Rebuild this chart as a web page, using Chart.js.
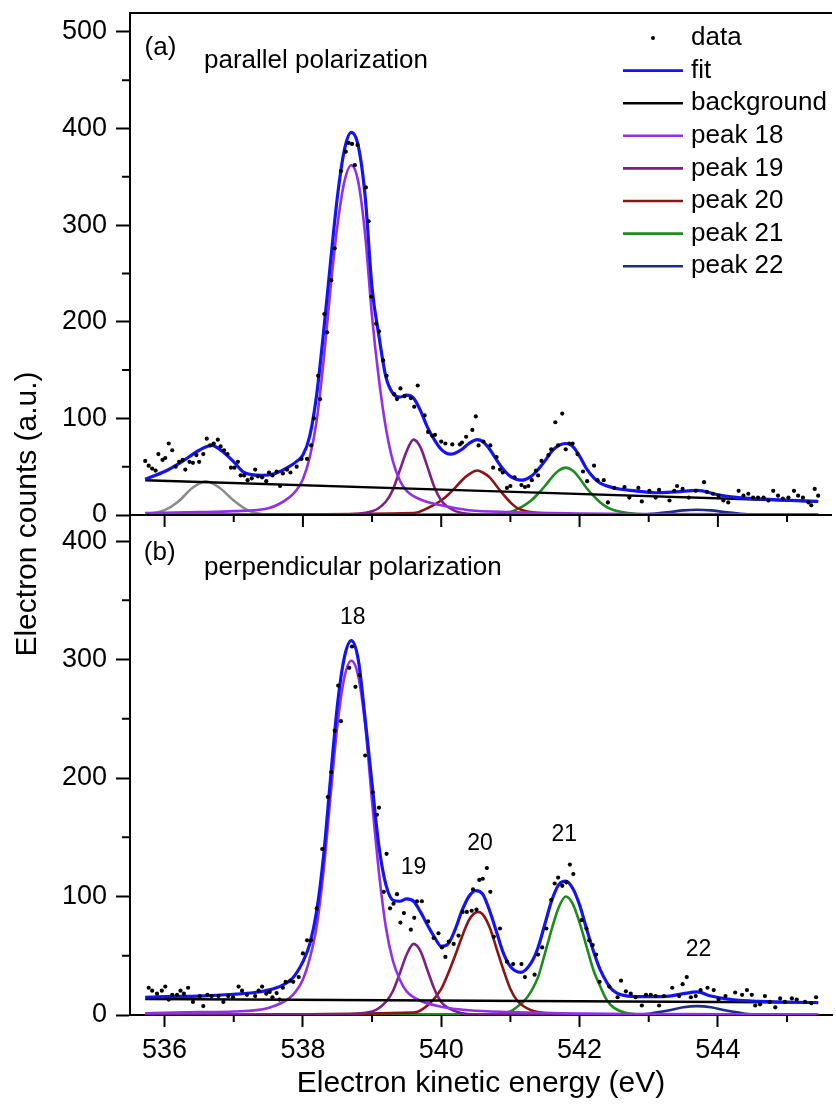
<!DOCTYPE html>
<html lang="en">
<head>
  <meta charset="UTF-8">
  <title>Electron counts vs kinetic energy</title>
  <script src="https://cdn.jsdelivr.net/npm/chart.js"></script>
  <style>
    html, body { margin: 0; padding: 0; background: #fff; }
    #chart { display: block; }
  </style>
</head>
<body>
  <canvas id="chart" width="836" height="1111"></canvas>
  <script>
    // ---- values ----
    // tick values
    const xMajorTicks = [536, 538, 540, 542, 544];
    const xMinorTicks = [537, 539, 541, 543, 545];
    const parYTicks = [0, 100, 200, 300, 400, 500];
    const parYMinor = [50, 150, 250, 350, 450];
    const perpYTicks = [0, 100, 200, 300, 400];
    const perpYMinor = [50, 150, 250, 350];

    // (a) parallel polarization: measured points
    const parDataE = [535.72, 535.77, 535.82, 535.87, 535.91, 535.97, 536.01, 536.06, 536.11, 536.16,
      536.21, 536.26, 536.30, 536.36, 536.41, 536.46, 536.50, 536.56, 536.61, 536.66,
      536.71, 536.77, 536.81, 536.86, 536.91, 536.96, 537.01, 537.06, 537.10, 537.15,
      537.20, 537.26, 537.31, 537.35, 537.41, 537.47, 537.51, 537.56, 537.62, 537.67,
      537.71, 537.77, 537.82, 537.91, 537.98, 538.06, 538.12, 538.16, 538.22, 538.25,
      538.31, 538.35, 538.41, 538.46, 538.55, 538.62, 538.66, 538.71, 538.75, 538.79,
      538.91, 538.95, 538.99, 539.06, 539.10, 539.16, 539.21, 539.32, 539.36, 539.41,
      539.47, 539.56, 539.61, 539.66, 539.76, 539.81, 539.87, 539.91, 540.00, 540.06,
      540.16, 540.27, 540.30, 540.36, 540.45, 540.50, 540.54, 540.61, 540.71, 540.75,
      540.80, 540.85, 540.89, 540.95, 541.00, 541.06, 541.16, 541.21, 541.26, 541.31,
      541.37, 541.40, 541.45, 541.55, 541.59, 541.65, 541.69, 541.75, 541.80, 541.85,
      541.90, 541.97, 542.05, 542.11, 542.21, 542.26, 542.35, 542.41, 542.50, 542.65,
      542.72, 542.85, 542.90, 543.01, 543.10, 543.15, 543.30, 543.37, 543.41, 543.49,
      543.58, 543.68, 543.80, 543.84, 543.93, 544.01, 544.08, 544.15, 544.30, 544.37,
      544.44, 544.51, 544.58, 544.66, 544.73, 544.80, 544.87, 544.94, 545.02, 545.10,
      545.16, 545.23, 545.31, 545.35, 545.40, 545.45];
    const parDataCounts = [56, 51, 48, 46, 63, 57, 59, 74, 67, 50,
      55, 57, 47, 55, 54, 62, 55, 63, 79, 72,
      74, 78, 71, 67, 63, 49, 49, 55, 41, 41,
      36, 38, 47, 40, 39, 35, 44, 41, 45, 30,
      43, 47, 44, 50, 58, 58, 72, 100, 144, 120,
      208, 189, 243, 276, 356, 376, 385, 384, 362, 383,
      339, 304, 226, 198, 190, 160, 144, 125, 120, 131,
      123, 121, 112, 134, 103, 86, 82, 83, 76, 74,
      73, 73, 75, 81, 88, 102, 72, 76, 72, 49,
      60, 47, 44, 28, 30, 39, 31, 29, 30, 36,
      46, 41, 56, 62, 68, 96, 72, 105, 68, 74,
      74, 63, 45, 35, 51, 36, 36, 13, 28, 29,
      18, 28, 14, 25, 18, 26, 15, 25, 30, 27,
      18, 25, 34, 24, 22, 20, 15, 13, 25, 20,
      22, 18, 18, 18, 15, 25, 20, 17, 18, 25,
      20, 18, 13, 10, 27, 20];

    // (a) fit curve
    const parFitE = [535.72, 536.0, 536.2, 536.35, 536.5, 536.68, 536.85, 537.0, 537.15, 537.4,
      537.6, 537.8, 537.9, 538.0, 538.1, 538.2, 538.3, 538.4, 538.5, 538.6,
      538.7, 538.8, 538.9, 539.0, 539.1, 539.2, 539.3, 539.4, 539.5, 539.6,
      539.7, 539.8, 539.9, 540.0, 540.13, 540.2, 540.3, 540.4, 540.52, 540.6,
      540.7, 540.8, 540.9, 541.0, 541.16, 541.3, 541.4, 541.5, 541.6, 541.7,
      541.8, 541.9, 542.0, 542.1, 542.2, 542.3, 542.5, 542.8, 543.1, 543.4,
      543.7, 544.0, 544.3, 544.8, 545.45];
    const parFit = [37, 45, 53, 60, 67, 72, 65, 55, 44, 41,
      43, 50, 55, 62, 82, 125, 190, 262, 330, 378,
      396, 382, 330, 235, 185, 143, 126, 122, 124, 121,
      108, 91, 78, 68, 63, 64, 68, 74, 78, 76,
      68, 57, 47, 40, 36, 40, 47, 56, 66, 72,
      74, 71, 61, 48, 39, 33, 28, 25, 23, 24,
      25.5, 21, 18, 16, 14];

    const parBackE = [535.72, 545.45];
    const parBack = [36, 14];

    const parExtraE = [535.72, 536.0, 536.2, 536.4, 536.6, 536.8, 537.0, 537.2, 537.4, 537.6];
    const parExtra = [0.5, 5, 14, 28, 35, 28, 15, 5, 1, 0];

    const parP18E = [535.72, 536.5, 537.0, 537.5, 537.8, 537.9, 538.0, 538.1, 538.2, 538.3,
      538.4, 538.5, 538.6, 538.7, 538.8, 538.9, 539.0, 539.1, 539.2, 539.3,
      539.4, 539.5, 539.7, 540.0, 540.4, 541.0, 542.0, 543.0, 545.45];
    const parP18 = [2, 3, 4, 7, 18, 25, 37, 60, 98, 160,
      235, 300, 345, 362, 345, 290, 205, 140, 90, 56,
      36, 25, 16, 10, 5, 3, 1.5, 1, 0.5];

    const parP19E = [535.72, 538.5, 539.0, 539.2, 539.3, 539.4, 539.5, 539.6, 539.7, 539.8,
      539.9, 540.0, 540.1, 540.3, 540.6, 545.45];
    const parP19 = [0, 0.5, 4, 14, 26, 46, 66, 78, 70, 50,
      29, 15, 8, 2, 0.5, 0];

    const parP20E = [535.72, 539.6, 539.8, 540.0, 540.1, 540.2, 540.3, 540.4, 540.52, 540.6,
      540.7, 540.8, 540.9, 541.0, 541.1, 541.3, 541.6, 542.0, 545.45];
    const parP20 = [0, 2, 7, 15, 21, 28, 36, 42, 46, 44,
      39, 30, 21, 13, 7, 3, 1, 0, 0];

    const parP21E = [535.72, 540.8, 541.0, 541.1, 541.2, 541.3, 541.4, 541.5, 541.6, 541.7,
      541.8, 541.9, 542.0, 542.1, 542.2, 542.3, 542.4, 542.5, 542.7, 543.0, 545.45];
    const parP21 = [0, 0.5, 3, 6, 10, 15, 22, 30, 39, 46,
      49, 46, 38, 28, 20, 13, 8, 5, 2, 0.5, 0];

    const parP22E = [535.72, 542.9, 543.1, 543.3, 543.5, 543.7, 543.9, 544.1, 544.3, 544.5, 545.45];
    const parP22 = [0, 0.5, 1.5, 3, 4.8, 5.5, 4.8, 3, 1.5, 0.5, 0];

    // (b) perpendicular polarization: measured points
    const perpDataE = [535.77, 535.82, 535.89, 535.96, 536.01, 536.06, 536.11, 536.18, 536.23, 536.28,
      536.34, 536.41, 536.51, 536.56, 536.62, 536.68, 536.78, 536.85, 536.92, 536.99,
      537.07, 537.12, 537.19, 537.31, 537.36, 537.41, 537.47, 537.52, 537.56, 537.62,
      537.66, 537.71, 537.75, 537.82, 537.86, 537.94, 538.00, 538.06, 538.12, 538.20,
      538.28, 538.36, 538.41, 538.46, 538.51, 538.55, 538.67, 538.71, 538.76, 538.82,
      538.90, 539.01, 539.07, 539.10, 539.17, 539.21, 539.26, 539.31, 539.36, 539.41,
      539.46, 539.56, 539.61, 539.65, 539.72, 539.81, 539.89, 539.96, 540.01, 540.06,
      540.11, 540.18, 540.25, 540.31, 540.37, 540.44, 540.46, 540.51, 540.55, 540.60,
      540.66, 540.71, 540.76, 540.85, 540.95, 541.04, 541.16, 541.21, 541.35, 541.40,
      541.46, 541.52, 541.59, 541.64, 541.69, 541.75, 541.81, 541.86, 541.91, 542.03,
      542.10, 542.14, 542.19, 542.24, 542.29, 542.43, 542.55, 542.60, 542.67, 542.74,
      542.81, 542.90, 542.96, 543.03, 543.10, 543.15, 543.22, 543.34, 543.44, 543.49,
      543.55, 543.61, 543.68, 543.75, 543.85, 543.94, 544.01, 544.11, 544.25, 544.35,
      544.42, 544.49, 544.54, 544.61, 544.68, 544.75, 544.83, 544.90, 544.97, 545.07,
      545.14, 545.26, 545.35, 545.42];
    const perpDataCounts = [23, 20.5, 18, 20.5, 24, 13, 17, 17, 20.5, 18,
      23, 11, 16, 7.5, 17, 16, 16, 11, 16, 15,
      24, 20.5, 17, 16, 20.5, 24, 18, 19.5, 15, 18.5,
      13, 23, 28, 29, 28, 32, 52, 63, 63, 90,
      140, 184, 205, 240, 278, 248, 293, 311, 277, 287,
      219, 188, 169, 175, 104, 136, 90, 94, 102, 78,
      86, 72, 82, 96, 96, 79, 65, 69, 57, 49,
      62, 60, 67, 87, 87, 88, 106, 89, 114, 115,
      124, 104, 66, 73, 45, 43, 43, 32, 34, 51,
      57, 73, 97, 111, 116, 109, 112, 127, 119, 80,
      73, 63, 59, 51, 28, 24, 15, 29, 20, 18,
      15, 8, 17, 17, 16, 8, 16, 23, 16, 26,
      32, 15, 16, 21, 23, 21, 13, 16, 19, 17,
      21, 17, 8, 9, 16, 11, 6.5, 14, 11, 14,
      13, 11, 10, 15];

    // (b) fit curve
    const perpFitE = [535.72, 536.0, 536.5, 537.0, 537.3, 537.5, 537.7, 537.85, 538.0, 538.1,
      538.2, 538.3, 538.4, 538.5, 538.6, 538.7, 538.8, 538.9, 539.0, 539.1,
      539.2, 539.3, 539.4, 539.5, 539.6, 539.7, 539.8, 539.9, 540.0, 540.1,
      540.2, 540.3, 540.4, 540.5, 540.6, 540.7, 540.8, 540.9, 541.0, 541.15,
      541.3, 541.4, 541.5, 541.6, 541.7, 541.8, 541.9, 542.0, 542.1, 542.2,
      542.3, 542.4, 542.5, 542.7, 543.0, 543.3, 543.5, 543.7, 543.9, 544.2,
      544.6, 545.45];
    const perpFit = [15, 15.5, 16, 17.5, 19, 21, 25, 31, 45, 60,
      88, 135, 200, 262, 302, 316, 300, 250, 195, 142,
      110, 97, 96, 98, 96, 87, 76, 66, 58, 60,
      72, 88, 100, 105, 102, 88, 70, 52, 41, 36,
      44, 57, 77, 97, 110, 113, 107, 93, 73, 54,
      38, 27, 20, 16, 15.5, 16, 18, 19.5, 16, 13,
      11.5, 10.5];

    const perpBackE = [535.72, 545.45];
    const perpBack = [13.5, 10.5];

    const perpP18E = [535.72, 536.5, 537.0, 537.5, 537.8, 537.9, 538.0, 538.1, 538.2, 538.3,
      538.4, 538.5, 538.6, 538.7, 538.8, 538.9, 539.0, 539.1, 539.2, 539.3,
      539.4, 539.5, 539.7, 540.0, 540.4, 541.0, 542.0, 543.0, 545.45];
    const perpP18 = [1.5, 2.5, 3, 6, 14, 20, 30, 48, 75, 122,
      185, 245, 285, 299, 286, 245, 180, 120, 74, 46,
      30, 20, 12, 7, 4, 2.5, 1.2, 0.8, 0.4];

    const perpP19E = [535.72, 538.5, 539.0, 539.2, 539.3, 539.4, 539.5, 539.6, 539.7, 539.8,
      539.9, 540.0, 540.1, 540.3, 540.6, 545.45];
    const perpP19 = [0, 0.5, 3, 11, 20, 35, 51, 60, 54, 38,
      22, 11, 6, 1.5, 0.4, 0];

    const perpP20E = [535.72, 539.6, 539.8, 540.0, 540.1, 540.2, 540.3, 540.4, 540.53, 540.6,
      540.7, 540.8, 540.9, 541.0, 541.1, 541.3, 541.6, 542.0, 545.45];
    const perpP20 = [0, 2, 8, 22, 35, 50, 66, 80, 87, 85,
      74, 56, 38, 22, 12, 4, 1, 0, 0];

    const perpP21E = [535.72, 540.8, 541.0, 541.1, 541.2, 541.3, 541.4, 541.5, 541.6, 541.7,
      541.8, 541.9, 542.0, 542.1, 542.2, 542.3, 542.4, 542.5, 542.7, 543.0, 545.45];
    const perpP21 = [0, 0.5, 3, 7, 12, 20, 32, 52, 73, 91,
      100, 94, 78, 58, 38, 24, 12, 6, 1.5, 0.3, 0];

    const perpP22E = [535.72, 542.9, 543.1, 543.3, 543.5, 543.7, 543.9, 544.1, 544.3, 544.5, 545.45];
    const perpP22 = [0, 0.5, 2, 4, 6.5, 7.5, 6.5, 4, 2, 0.5, 0];

    // peak numbers written in panel (b)
    const perpPeakNames = ['18', '19', '20', '21', '22'];

    // ---- styling ----
    const FONT = "'Liberation Sans', Arial, Helvetica, sans-serif";
    const colors = {
      data: '#000000',
      fit: '#1414ee',
      background: '#000000',
      extra: '#8c8c8c',
      p18: '#9130e8',
      p19: '#7e1f86',
      p20: '#8c1414',
      p21: '#1c8c1c',
      p22: '#1e2a8c'
    };

    function pts(xs, ys) {
      return xs.map((x, i) => ({ x: x, y: ys[i] }));
    }

    function curve(label, xs, ys, color, axis, width) {
      return {
        label: label,
        data: pts(xs, ys),
        yAxisID: axis,
        borderColor: color,
        backgroundColor: color,
        borderWidth: width,
        pointRadius: 0,
        fill: false,
        cubicInterpolationMode: 'monotone'
      };
    }

    function dots(label, xs, ys, axis) {
      return {
        label: label,
        data: pts(xs, ys),
        yAxisID: axis,
        showLine: false,
        pointRadius: 2.1,
        pointBorderWidth: 0,
        pointBackgroundColor: colors.data,
        borderColor: colors.data,
        backgroundColor: colors.data
      };
    }

    // first dataset is drawn on top
    const datasets = [
      dots('data', parDataE, parDataCounts, 'yTop'),
      curve('fit', parFitE, parFit, colors.fit, 'yTop', 3.2),
      curve('background', parBackE, parBack, colors.background, 'yTop', 2.4),
      curve('peak 18', parP18E, parP18, colors.p18, 'yTop', 2.6),
      curve('peak 19', parP19E, parP19, colors.p19, 'yTop', 2.6),
      curve('peak 20', parP20E, parP20, colors.p20, 'yTop', 2.6),
      curve('peak 21', parP21E, parP21, colors.p21, 'yTop', 2.6),
      curve('peak 22', parP22E, parP22, colors.p22, 'yTop', 2.6),
      curve('extra peak', parExtraE, parExtra, colors.extra, 'yTop', 2.6),
      dots('data (b)', perpDataE, perpDataCounts, 'yBot'),
      curve('fit (b)', perpFitE, perpFit, colors.fit, 'yBot', 3.2),
      curve('background (b)', perpBackE, perpBack, colors.background, 'yBot', 2.4),
      curve('peak 18 (b)', perpP18E, perpP18, colors.p18, 'yBot', 2.6),
      curve('peak 19 (b)', perpP19E, perpP19, colors.p19, 'yBot', 2.6),
      curve('peak 20 (b)', perpP20E, perpP20, colors.p20, 'yBot', 2.6),
      curve('peak 21 (b)', perpP21E, perpP21, colors.p21, 'yBot', 2.6),
      curve('peak 22 (b)', perpP22E, perpP22, colors.p22, 'yBot', 2.6)
    ];

    // text placed in data coordinates
    const notes = [
      { text: '(a)', x: 535.71, y: 476, axis: 'yTop', size: 26, align: 'left' },
      { text: 'parallel polarization', x: 536.57, y: 463, axis: 'yTop', size: 26, align: 'left' },
      { text: '(b)', x: 535.70, y: 384, axis: 'yBot', size: 26, align: 'left' },
      { text: 'perpendicular polarization', x: 536.57, y: 371, axis: 'yBot', size: 26, align: 'left' }
    ];
    const peakNotePos = [[538.72, 335], [539.60, 124], [540.56, 145], [541.78, 152], [543.72, 55]];

    const legendLabels = ['data', 'fit', 'background', 'peak 18', 'peak 19', 'peak 20', 'peak 21', 'peak 22'];

    function fixedWidth(w) {
      return function (scale) {
        scale.width = w;
        scale.paddingTop = 0;
        scale.paddingBottom = 0;
      };
    }

    function yAxis(ticks, max, weight) {
      return {
        type: 'linear',
        position: 'left',
        stack: 'panels',
        stackWeight: weight,
        min: 0,
        max: max,
        afterBuildTicks: (scale) => { scale.ticks = ticks.map(v => ({ value: v })); },
        afterFit: fixedWidth(130),
        border: { display: true, color: '#000', width: 2 },
        grid: { drawOnChartArea: false, drawTicks: true, tickLength: 14, tickWidth: 2, tickColor: '#000' },
        ticks: { color: '#000', padding: 9, font: { family: FONT, size: 27 } }
      };
    }

    // extra axis pieces: frame top, the (a) baseline with its ticks, minor ticks
    const axisExtras = {
      id: 'axisExtras',
      afterDraw(chart) {
        const { ctx, chartArea: area } = chart;
        const x = chart.scales.x, yTop = chart.scales.yTop, yBot = chart.scales.yBot;
        const split = yTop.getPixelForValue(0);
        ctx.save();
        ctx.strokeStyle = '#000';
        ctx.lineWidth = 2;
        ctx.beginPath();
        ctx.moveTo(area.left - 1, area.top);
        ctx.lineTo(area.right, area.top);
        ctx.moveTo(area.left - 1, split);
        ctx.lineTo(area.right, split);
        xMajorTicks.forEach(v => {
          const p = x.getPixelForValue(v);
          ctx.moveTo(p, split);
          ctx.lineTo(p, split + 12);
        });
        xMinorTicks.forEach(v => {
          const p = x.getPixelForValue(v);
          ctx.moveTo(p, split);
          ctx.lineTo(p, split + 7);
          ctx.moveTo(p, area.bottom);
          ctx.lineTo(p, area.bottom + 7);
        });
        parYMinor.forEach(v => {
          const p = yTop.getPixelForValue(v);
          ctx.moveTo(area.left, p);
          ctx.lineTo(area.left - 8, p);
        });
        perpYMinor.forEach(v => {
          const p = yBot.getPixelForValue(v);
          ctx.moveTo(area.left, p);
          ctx.lineTo(area.left - 8, p);
        });
        ctx.stroke();
        ctx.restore();
      }
    };

    const textLayer = {
      id: 'textLayer',
      afterDraw(chart) {
        const { ctx, chartArea: area } = chart;
        const x = chart.scales.x;
        ctx.save();
        ctx.fillStyle = '#000';

        notes.forEach(n => {
          ctx.font = n.size + 'px ' + FONT;
          ctx.textAlign = n.align;
          ctx.textBaseline = 'alphabetic';
          ctx.fillText(n.text, x.getPixelForValue(n.x), chart.scales[n.axis].getPixelForValue(n.y));
        });

        ctx.font = '23px ' + FONT;
        ctx.textAlign = 'center';
        ctx.textBaseline = 'middle';
        perpPeakNames.forEach((t, i) => {
          const pos = peakNotePos[i];
          ctx.fillText(t, x.getPixelForValue(pos[0]), chart.scales.yBot.getPixelForValue(pos[1]));
        });

        // shared y title
        ctx.save();
        ctx.translate(28, (area.top + area.bottom) / 2);
        ctx.rotate(-Math.PI / 2);
        ctx.font = '30px ' + FONT;
        ctx.textAlign = 'center';
        ctx.textBaseline = 'middle';
        ctx.fillText('Electron counts (a.u.)', 0, 0);
        ctx.restore();

        // legend, top right of panel (a)
        const lineStart = area.right - 209, lineEnd = area.right - 149, textX = area.right - 141;
        ctx.font = '26px ' + FONT;
        ctx.textAlign = 'left';
        ctx.textBaseline = 'middle';
        legendLabels.forEach((label, i) => {
          const ds = chart.data.datasets.find(d => d.label === label);
          const yy = area.top + 25 + i * 32.6;
          if (ds.showLine === false) {
            ctx.fillStyle = ds.pointBackgroundColor;
            ctx.beginPath();
            ctx.arc((lineStart + lineEnd) / 2, yy, 2, 0, Math.PI * 2);
            ctx.fill();
          } else {
            ctx.strokeStyle = ds.borderColor;
            ctx.lineWidth = 2.6;
            ctx.beginPath();
            ctx.moveTo(lineStart, yy);
            ctx.lineTo(lineEnd, yy);
            ctx.stroke();
          }
          ctx.fillStyle = '#000';
          ctx.fillText(label, textX, yy);
        });
        ctx.restore();
      }
    };

    const ctx = document.getElementById('chart').getContext('2d');
    const chart = new Chart(ctx, {
      type: 'line',
      data: { datasets: datasets },
      options: {
        responsive: false,
        animation: false,
        events: [],
        layout: { padding: { top: 13, left: 0, right: 0, bottom: 0 } },
        plugins: {
          legend: { display: false },
          tooltip: { enabled: false }
        },
        scales: {
          x: {
            type: 'linear',
            position: 'bottom',
            min: 535.5,
            max: 545.65,
            afterBuildTicks: (scale) => { scale.ticks = xMajorTicks.map(v => ({ value: v })); },
            afterFit: (scale) => { scale.height = 96; scale.paddingLeft = 0; scale.paddingRight = 0; },
            border: { display: true, color: '#000', width: 2 },
            grid: { drawOnChartArea: false, drawTicks: true, tickLength: 12, tickWidth: 2, tickColor: '#000' },
            ticks: { color: '#000', padding: 7, maxRotation: 0, autoSkip: false, font: { family: FONT, size: 27 } },
            title: {
              display: true,
              text: 'Electron kinetic energy (eV)',
              color: '#000',
              font: { family: FONT, size: 30 },
              padding: { top: 0, bottom: 9 }
            }
          },
          // in a stack the first scale listed sits at the bottom
          yBot: yAxis(perpYTicks, 422, 500),
          yTop: yAxis(parYTicks, 519.5, 502)
        }
      },
      plugins: [axisExtras, textLayer]
    });
  </script>
</body>
</html>
